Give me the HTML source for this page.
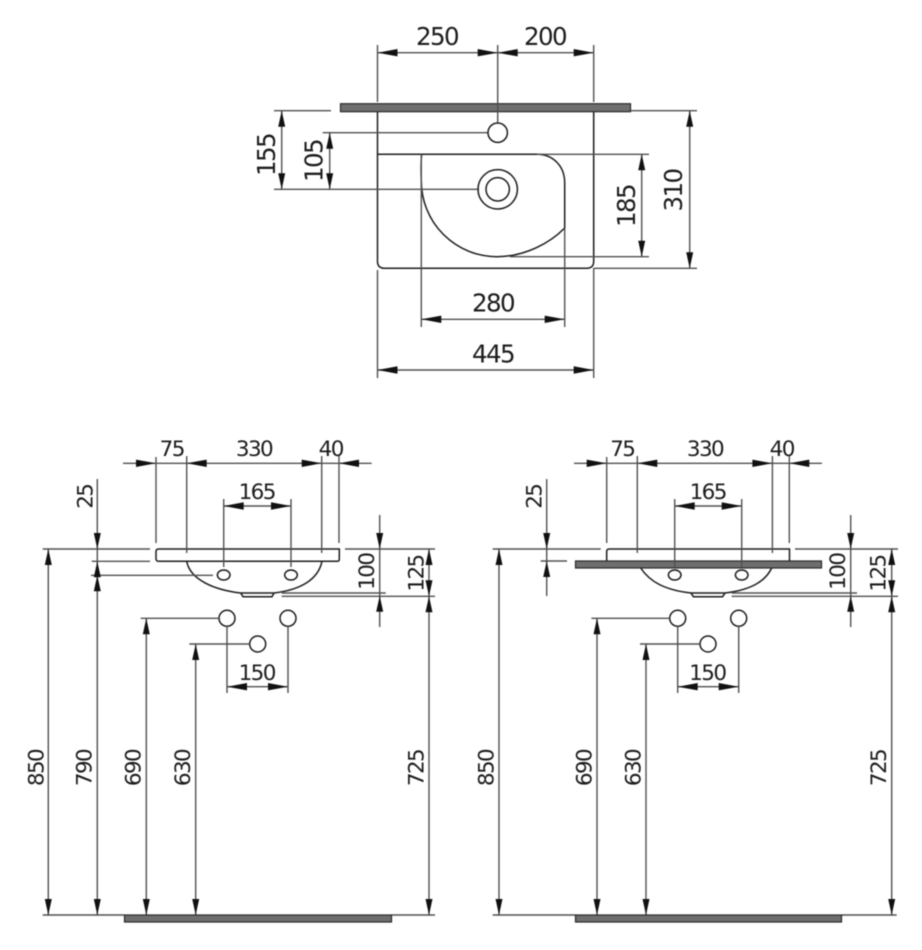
<!DOCTYPE html>
<html><head><meta charset="utf-8"><style>
html,body{margin:0;padding:0;background:#fff;width:922px;height:950px;overflow:hidden}
svg{display:block;filter:blur(0.4px)}
text{font-family:"DejaVu Sans","Liberation Sans",sans-serif;fill:#1c1c1c;text-anchor:middle}
.b{font-size:24.5px;letter-spacing:-1.6px}.s{font-size:21.5px;letter-spacing:-1.6px}
.g{stroke:#505050;stroke-width:1.4;fill:none}
.k{stroke:#1c1c1c;stroke-width:1.5;fill:none}
.bar{fill:#6e6e6e;stroke:#2a2a2a;stroke-width:1.2}
</style></head><body>
<svg width="922" height="950" viewBox="0 0 922 950" xmlns="http://www.w3.org/2000/svg">
<defs>
<polygon id="h" points="0,0 -20,-3.7 -20,3.7" fill="#111"/>
<polygon id="v" points="0,0 -3.5,16 3.5,16" fill="#111"/>
</defs>
<rect width="922" height="950" fill="#fff"/>

<!-- TOP VIEW -->
<path class="k" d="M377.5 112V261.3q0 7 7 7H586.7q7 0 7-7V112"/>
<path class="k" d="M377.5 154.3H537C552 154.3 564.7 165 564.7 183V228C550 243 525 256.7 497 256.7A75.7 75.7 0 0 1 421.3 181C421 172 420.8 162 421.7 154.3"/>
<rect class="bar" x="340.5" y="103.7" width="290" height="8"/>
<path class="g" d="M377.5 45V102M593.7 45V102M497.7 45V123M377.5 270V378M593.7 268V378M421.3 154V327M564.7 228V327"/>
<path class="g" d="M377.5 52.7H593.7M274 110.7H331M274 189.3H479M322.7 132.7H488M537 154.3H649M510 256.7H649M631 110.7H697M594 268.3H697M421.3 319.3H564.7M377.5 370H593.7M281.7 110.7V189.3M329.7 132.7V189.3M641.7 154.3V256.7M689.7 110.7V268.3"/>
<circle class="k" cx="497.7" cy="132.7" r="9.7" fill="#fff"/>
<circle class="k" cx="497.7" cy="189.3" r="19.7"/>
<circle class="k" cx="497.7" cy="189.3" r="11.7"/>
<use href="#h" transform="translate(377.5,52.7) rotate(180)"/>
<use href="#h" transform="translate(497.7,52.7)"/>
<use href="#h" transform="translate(497.7,52.7) rotate(180)"/>
<use href="#h" transform="translate(593.7,52.7)"/>
<use href="#h" transform="translate(421.3,319.3) rotate(180)"/>
<use href="#h" transform="translate(564.7,319.3)"/>
<use href="#h" transform="translate(377.5,370) rotate(180)"/>
<use href="#h" transform="translate(593.7,370)"/>
<use href="#v" transform="translate(281.7,110.7)"/>
<use href="#v" transform="translate(281.7,189.3) rotate(180)"/>
<use href="#v" transform="translate(329.7,132.7)"/>
<use href="#v" transform="translate(329.7,189.3) rotate(180)"/>
<use href="#v" transform="translate(641.7,154.3)"/>
<use href="#v" transform="translate(641.7,256.7) rotate(180)"/>
<use href="#v" transform="translate(689.7,110.7)"/>
<use href="#v" transform="translate(689.7,268.3) rotate(180)"/>
<text class="b" x="437" y="45">250</text>
<text class="b" x="545" y="45">200</text>
<text class="b" x="493" y="311.7">280</text>
<text class="b" x="493" y="362.7">445</text>
<text class="b" transform="translate(275,155) rotate(-90)">155</text>
<text class="b" transform="translate(322.7,161) rotate(-90)">105</text>
<text class="b" transform="translate(635,206) rotate(-90)">185</text>
<text class="b" transform="translate(682,190.5) rotate(-90)">310</text>

<!-- LEFT FRONT VIEW -->
<path class="k" d="M158.5 549H339.3V559q0 2.3-2 2.3H158.5q-2.5 0-2.5-2.5V551.5q0-2.5 2.5-2.5Z"/>
<path class="k" d="M186.7 561.3C190 580 215 590 240.7 593H274C300 590 318 580 322 561.3M240.7 593L243 596.7H272L274 593"/>
<ellipse class="k" cx="223.7" cy="575" rx="6.3" ry="5"/>
<ellipse class="k" cx="291" cy="575" rx="6.3" ry="5"/>
<circle class="k" cx="227" cy="618.3" r="8"/>
<circle class="k" cx="288" cy="618.3" r="8"/>
<circle class="k" cx="257.7" cy="644" r="8"/>
<path class="g" d="M156 457V543M186.7 456V553M321.7 456V553M339 456V543M223.7 499V567M291 499V567"/>
<path class="g" d="M123 463.3H371.7M223.7 506H291M227 686.7H288M227 626V693M288 626V693"/>
<path class="g" d="M42.7 549H150M345 549H435M91.7 561.3H150M91 575.3H213M140.7 618.3H219M189.3 644H249.7M281.7 593H385.7M281.7 596.3H435M42.7 915H124M391.7 915H435"/>
<path class="g" d="M48.3 549V915M97.3 479V915M146.3 618.3V915M195.7 644V915M429 549V915M379.7 515V627"/>
<rect class="bar" x="124.5" y="915" width="267" height="7"/>
<use href="#h" transform="translate(156,463.3)"/>
<use href="#h" transform="translate(186.7,463.3) rotate(180)"/>
<use href="#h" transform="translate(321.7,463.3)"/>
<use href="#h" transform="translate(339,463.3) rotate(180)"/>
<use href="#h" transform="translate(223.7,506) rotate(180)"/>
<use href="#h" transform="translate(291,506)"/>
<use href="#h" transform="translate(227,686.7) rotate(180)"/>
<use href="#h" transform="translate(288,686.7)"/>
<use href="#v" transform="translate(97.3,549) rotate(180)"/>
<use href="#v" transform="translate(97.3,561.3)"/>
<use href="#v" transform="translate(97.3,575.3)"/>
<use href="#v" transform="translate(48.3,549)"/>
<use href="#v" transform="translate(146.3,618.3)"/>
<use href="#v" transform="translate(195.7,644)"/>
<use href="#v" transform="translate(379.7,549) rotate(180)"/>
<use href="#v" transform="translate(379.7,595.7)"/>
<use href="#v" transform="translate(429,549)"/>
<use href="#v" transform="translate(429,596.3) rotate(180)"/>
<use href="#v" transform="translate(429,596.3)"/>
<use href="#v" transform="translate(48.3,915) rotate(180)"/>
<use href="#v" transform="translate(97.3,915) rotate(180)"/>
<use href="#v" transform="translate(146.3,915) rotate(180)"/>
<use href="#v" transform="translate(195.7,915) rotate(180)"/>
<use href="#v" transform="translate(429,915) rotate(180)"/>
<text class="s" x="171.7" y="456">75</text>
<text class="s" x="254" y="456">330</text>
<text class="s" x="330.7" y="456">40</text>
<text class="s" x="256.7" y="499">165</text>
<text class="s" x="256.7" y="680">150</text>
<text class="s" transform="translate(92.3,496.7) rotate(-90)">25</text>
<text class="s" transform="translate(374,571.7) rotate(-90)">100</text>
<text class="s" transform="translate(423.3,573.5) rotate(-90)">125</text>
<text class="s" transform="translate(43.3,768) rotate(-90)">850</text>
<text class="s" transform="translate(91.7,768) rotate(-90)">790</text>
<text class="s" transform="translate(140.7,768) rotate(-90)">690</text>
<text class="s" transform="translate(190,768) rotate(-90)">630</text>
<text class="s" transform="translate(423.3,768) rotate(-90)">725</text>

<!-- RIGHT FRONT VIEW -->
<path class="k" d="M606.7 561V551.5q0-2.5 2.5-2.5H789.5V561"/>
<rect class="bar" x="575.5" y="561" width="246" height="7"/>
<path class="k" d="M640.7 568C650 582 665 590 691 593H725C750 590 765 582 771.7 568M691 593L693.4 596.7H722.6L725 593"/>
<ellipse class="k" cx="674.7" cy="575" rx="6.3" ry="5"/>
<ellipse class="k" cx="741.7" cy="575" rx="6.3" ry="5"/>
<circle class="k" cx="677.7" cy="618.3" r="8"/>
<circle class="k" cx="738.7" cy="618.3" r="8"/>
<circle class="k" cx="708" cy="644" r="8"/>
<path class="g" d="M606.7 457V543M637.3 456V553M772.4 456V553M789.3 456V543M674.7 499V567M741.7 499V567"/>
<path class="g" d="M574 463.3H822M674.7 506H741.7M677.7 686.7H738.7M677.7 626V693M738.7 626V693"/>
<path class="g" d="M492.7 549H600.7M795 549H898M540.7 561H567M591.4 618.3H669.7M640 644H700M731.7 593H857M731.7 596.3H898M492.7 915H575M841.7 915H896.7"/>
<path class="g" d="M499 549V915M546.7 479V596M597 618.3V915M646 644V915M891.7 549V915M850.7 515V627"/>
<rect class="bar" x="575.5" y="915" width="266" height="7"/>
<use href="#h" transform="translate(606.7,463.3)"/>
<use href="#h" transform="translate(637.3,463.3) rotate(180)"/>
<use href="#h" transform="translate(772.4,463.3)"/>
<use href="#h" transform="translate(789.3,463.3) rotate(180)"/>
<use href="#h" transform="translate(674.7,506) rotate(180)"/>
<use href="#h" transform="translate(741.7,506)"/>
<use href="#h" transform="translate(677.7,686.7) rotate(180)"/>
<use href="#h" transform="translate(738.7,686.7)"/>
<use href="#v" transform="translate(546.7,549) rotate(180)"/>
<use href="#v" transform="translate(546.7,561)"/>
<use href="#v" transform="translate(499,549)"/>
<use href="#v" transform="translate(597,618.3)"/>
<use href="#v" transform="translate(646,644)"/>
<use href="#v" transform="translate(850.7,549) rotate(180)"/>
<use href="#v" transform="translate(850.7,595.7)"/>
<use href="#v" transform="translate(891.7,549)"/>
<use href="#v" transform="translate(891.7,596.3) rotate(180)"/>
<use href="#v" transform="translate(891.7,596.3)"/>
<use href="#v" transform="translate(499,915) rotate(180)"/>
<use href="#v" transform="translate(597,915) rotate(180)"/>
<use href="#v" transform="translate(646,915) rotate(180)"/>
<use href="#v" transform="translate(891.7,915) rotate(180)"/>
<text class="s" x="622.3" y="456">75</text>
<text class="s" x="705" y="456">330</text>
<text class="s" x="781.7" y="456">40</text>
<text class="s" x="707.7" y="499">165</text>
<text class="s" x="707.3" y="680">150</text>
<text class="s" transform="translate(541.7,496.7) rotate(-90)">25</text>
<text class="s" transform="translate(845,571.7) rotate(-90)">100</text>
<text class="s" transform="translate(885.7,573.5) rotate(-90)">125</text>
<text class="s" transform="translate(493.3,768) rotate(-90)">850</text>
<text class="s" transform="translate(591.7,768) rotate(-90)">690</text>
<text class="s" transform="translate(640.7,768) rotate(-90)">630</text>
<text class="s" transform="translate(886,768) rotate(-90)">725</text>
</svg>
</body></html>
